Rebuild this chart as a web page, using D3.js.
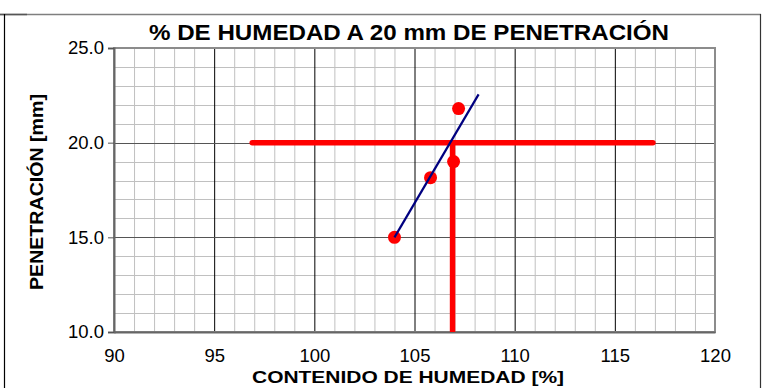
<!DOCTYPE html>
<html>
<head>
<meta charset="utf-8">
<script src="https://cdn.jsdelivr.net/npm/d3@7"></script>
<style>
  body { margin: 0; background: #fff; }
  svg { display: block; font-family: "Liberation Sans", Arial, sans-serif; }
</style>
</head>
<body>
<div id="canvas"></div>
<script>
/* DATA */
const humedad = [104.0, 105.8, 106.95, 107.2];
const penetracion = [15.0, 18.15, 19.0, 21.8];
const trendX = [104.0, 108.2];
const trendY = [15.0, 22.55];
const refHumedad = 106.9;
const refPenetracion = 20.0;
const refLineX = [96.9, 116.9];
const xTicks = [90, 95, 100, 105, 110, 115, 120];
const yTicks = [10, 15, 20, 25];

const width = 767;
const height = 388;
const plot = { left: 114, right: 715, top: 48, bottom: 332 };

const svg = d3.select("#canvas")
    .append("svg")
    .attr("width", width)
    .attr("height", height);

const x = d3.scaleLinear().domain([90, 120]).range([plot.left, plot.right]);
const y = d3.scaleLinear().domain([10, 25]).range([plot.bottom, plot.top]);

/* OUTER FRAME */
svg.append("line").attr("x1", 0).attr("x2", 761).attr("y1", 14.5).attr("y2", 14.5)
    .attr("stroke", "#7f7f7f").attr("stroke-width", 1.5);
svg.append("line").attr("x1", 0).attr("x2", 27).attr("y1", 14.5).attr("y2", 14.5)
    .attr("stroke", "#555").attr("stroke-width", 1.5);
svg.append("line").attr("x1", 4.5).attr("x2", 4.5).attr("y1", 14).attr("y2", height)
    .attr("stroke", "#000").attr("stroke-width", 1.2);
svg.append("line").attr("x1", 760.5).attr("x2", 760.5).attr("y1", 14).attr("y2", height)
    .attr("stroke", "#333").attr("stroke-width", 1.2);

/* GRID */
const grid = svg.append("g");
grid.selectAll(".vminor")
    .data(d3.range(91, 120).filter(d => d % 5 !== 0))
    .enter().append("line")
    .attr("x1", d => x(d) + 0.5).attr("x2", d => x(d) + 0.5)
    .attr("y1", plot.top).attr("y2", plot.bottom)
    .attr("stroke", "#c0c0c0").attr("stroke-width", 1);
grid.selectAll(".hminor")
    .data(d3.range(11, 25).filter(d => d % 5 !== 0))
    .enter().append("line")
    .attr("x1", plot.left).attr("x2", plot.right)
    .attr("y1", d => Math.round(y(d)) + 0.5).attr("y2", d => Math.round(y(d)) + 0.5)
    .attr("stroke", "#c0c0c0").attr("stroke-width", 1);
grid.selectAll(".vmajor")
    .data(xTicks.slice(1, -1))
    .enter().append("line")
    .attr("x1", d => x(d) + 0.5).attr("x2", d => x(d) + 0.5)
    .attr("y1", plot.top).attr("y2", plot.bottom)
    .attr("stroke", "#000").attr("stroke-width", 1);
grid.selectAll(".hmajor")
    .data(yTicks.slice(1, -1))
    .enter().append("line")
    .attr("x1", plot.left).attr("x2", plot.right)
    .attr("y1", d => Math.round(y(d)) + 0.5).attr("y2", d => Math.round(y(d)) + 0.5)
    .attr("stroke", "#555").attr("stroke-width", 1.2);

/* PLOT BORDER */
svg.append("rect")
    .attr("x", plot.left).attr("y", plot.top)
    .attr("width", plot.right - plot.left).attr("height", plot.bottom - plot.top)
    .attr("fill", "none").attr("stroke", "#8c8c8c").attr("stroke-width", 2);

/* AXES */
const yAxis = svg.append("g")
    .attr("transform", `translate(${plot.left},0)`)
    .call(d3.axisLeft(y).tickValues(yTicks).tickFormat(d3.format(".1f")).tickSize(6).tickPadding(4));
const xAxis = svg.append("g")
    .attr("transform", `translate(0,${plot.bottom})`)
    .call(d3.axisBottom(x).tickValues(xTicks).tickSize(0).tickPadding(17));
[xAxis, yAxis].forEach(a => {
    a.select(".domain").attr("stroke", "#666").attr("stroke-width", 2);
    a.selectAll(".tick line").attr("stroke", "#555");
    a.selectAll("text").attr("font-size", 18.5).attr("fill", "#000")
        .attr("font-family", "Liberation Sans, Arial, sans-serif");
});

/* REFERENCE LINES AT 20 mm */
svg.append("line")
    .attr("x1", x(refLineX[0])).attr("x2", x(refLineX[1]))
    .attr("y1", y(refPenetracion)).attr("y2", y(refPenetracion))
    .attr("stroke", "#ff0000").attr("stroke-width", 5.5).attr("stroke-linecap", "round");
svg.append("line")
    .attr("x1", x(refHumedad)).attr("x2", x(refHumedad))
    .attr("y1", y(refPenetracion)).attr("y2", y(10))
    .attr("stroke", "#ff0000").attr("stroke-width", 5.5);

/* POINTS */
svg.selectAll(".pt")
    .data(humedad)
    .enter().append("circle")
    .attr("cx", d => x(d))
    .attr("cy", (d, i) => y(penetracion[i]))
    .attr("r", 6.5)
    .attr("fill", "#ff0000");

/* TREND LINE */
svg.append("line")
    .attr("x1", x(trendX[0])).attr("x2", x(trendX[1]))
    .attr("y1", y(trendY[0])).attr("y2", y(trendY[1]))
    .attr("stroke", "#000080").attr("stroke-width", 2.2);

/* TITLES */
svg.append("text")
    .attr("x", 409).attr("y", 40)
    .attr("text-anchor", "middle")
    .attr("font-size", 22).attr("font-weight", "bold")
    .attr("textLength", 520).attr("lengthAdjust", "spacingAndGlyphs")
    .text("% DE HUMEDAD A 20 mm DE PENETRACIÓN");

svg.append("text")
    .attr("x", 408).attr("y", 383)
    .attr("text-anchor", "middle")
    .attr("font-size", 17).attr("font-weight", "bold")
    .attr("textLength", 312).attr("lengthAdjust", "spacingAndGlyphs")
    .text("CONTENIDO DE HUMEDAD [%]");

svg.append("text")
    .attr("transform", "translate(43,192) rotate(-90)")
    .attr("text-anchor", "middle")
    .attr("font-size", 18).attr("font-weight", "bold")
    .attr("textLength", 196).attr("lengthAdjust", "spacingAndGlyphs")
    .text("PENETRACIÓN [mm]");
</script>
</body>
</html>
